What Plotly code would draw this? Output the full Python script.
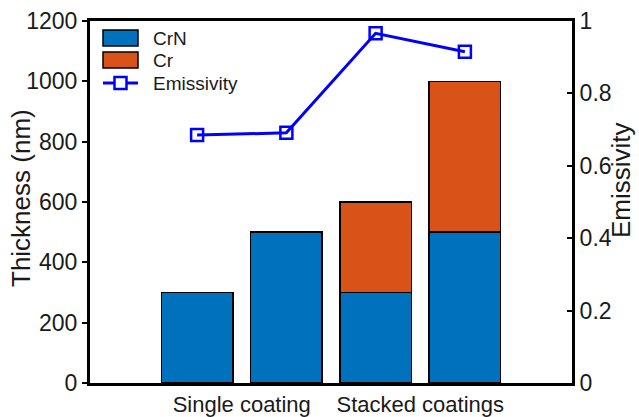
import plotly.graph_objects as go

positions = [1, 2, 3, 4]
crn = [300, 500, 300, 500]
cr = [0, 0, 300, 500]
emissivity = [0.685, 0.691, 0.966, 0.915]
group_pos = [1.5, 3.5]
group_labels = ["Single coating", "Stacked coatings"]
y_ticks = [0, 200, 400, 600, 800, 1000, 1200]
y2_ticks = [0, 0.2, 0.4, 0.6, 0.8, 1]
y2_labels = ["0", "0.2", "0.4", "0.6", "0.8", "1"]

FONT = "Liberation Sans, Arial, sans-serif"
TXT = "#1a1a1a"
C_CRN = "#0072BD"
C_CR = "#D95319"
C_EM = "#0000FF"

W, H = 639, 417
L, R, T, B = 90, 67, 21, 34
PW, PH = W - L - R, H - T - B


def px(x):
    return (x - L) / PW


def py(y):
    return (H - B - y) / PH


fig = go.Figure()
fig.add_trace(go.Bar(x=positions, y=crn, name="CrN", width=0.8,
                     marker=dict(color=C_CRN, line=dict(color="black", width=1.5))))
fig.add_trace(go.Bar(x=positions, y=cr, name="Cr", width=0.8,
                     marker=dict(color=C_CR, line=dict(color="black", width=1.5))))
fig.add_trace(go.Scatter(x=positions, y=emissivity, name="Emissivity", yaxis="y2",
                         mode="lines+markers",
                         line=dict(color=C_EM, width=3),
                         marker=dict(symbol="square-open", size=12, color=C_EM,
                                     line=dict(width=2.5, color=C_EM))))

# manual legend (MATLAB-style wide patches)
shapes = []
annotations = []
legend_items = [("CrN", C_CRN, 38), ("Cr", C_CR, 60)]
for name, col, yc in legend_items:
    shapes.append(dict(type="rect", xref="paper", yref="paper",
                       x0=px(103), x1=px(138), y0=py(yc + 8), y1=py(yc - 8),
                       fillcolor=col, line=dict(color="black", width=1.5)))
    annotations.append(dict(text=name, xref="paper", yref="paper", x=px(151), y=py(yc),
                            xanchor="left", yanchor="middle", showarrow=False,
                            font=dict(size=19, color=TXT, family=FONT)))
yc = 83
shapes.append(dict(type="line", xref="paper", yref="paper",
                   x0=px(103), x1=px(138), y0=py(yc), y1=py(yc),
                   line=dict(color=C_EM, width=3)))
shapes.append(dict(type="rect", xref="paper", yref="paper",
                   x0=px(114.5), x1=px(126.5), y0=py(yc + 6), y1=py(yc - 6),
                   fillcolor="white", line=dict(color=C_EM, width=2.5)))
annotations.append(dict(text="Emissivity", xref="paper", yref="paper", x=px(151), y=py(yc),
                        xanchor="left", yanchor="middle", showarrow=False,
                        font=dict(size=19, color=TXT, family=FONT)))

# axis titles
annotations.append(dict(text="Thickness (nm)", xref="paper", yref="paper",
                        x=px(21), y=py(198), textangle=-90,
                        xanchor="center", yanchor="middle", showarrow=False,
                        font=dict(size=26, color=TXT, family=FONT)))
annotations.append(dict(text="Emissivity", xref="paper", yref="paper",
                        x=px(621), y=py(180), textangle=-90,
                        xanchor="center", yanchor="middle", showarrow=False,
                        font=dict(size=26, color=TXT, family=FONT)))

fig.update_layout(
    width=W, height=H,
    margin=dict(l=L, r=R, t=T, b=B, autoexpand=False),
    paper_bgcolor="white", plot_bgcolor="white",
    barmode="stack",
    font=dict(family=FONT, color=TXT, size=23),
    showlegend=False,
    shapes=shapes,
    annotations=annotations,
    xaxis=dict(range=[-0.2, 5.2], tickvals=group_pos, ticktext=group_labels,
               showline=True, linecolor="black", linewidth=3, mirror=True,
               ticks="", showgrid=False, zeroline=False, automargin=False,
               tickfont=dict(size=22, color=TXT)),
    yaxis=dict(range=[0, 1200], tickvals=y_ticks,
               showline=True, linecolor="black", linewidth=3,
               ticks="outside", ticklen=5, tickwidth=2, tickcolor="black",
               showgrid=False, zeroline=False, automargin=False,
               tickfont=dict(size=23, color=TXT)),
    yaxis2=dict(range=[0, 1], tickvals=y2_ticks, ticktext=y2_labels,
                overlaying="y", side="right",
                showline=True, linecolor="black", linewidth=3,
                ticks="inside", ticklen=5, tickwidth=2, tickcolor="black",
                showgrid=False, zeroline=False, automargin=False,
                tickfont=dict(size=23, color=TXT)),
)

fig.write_html("out.html", config={"displayModeBar": False})

# remove the default page margin so the figure sits at the window's top-left corner
with open("out.html", "r", encoding="utf-8") as f:
    html = f.read()
html = html.replace("<head>", "<head><style>html,body{margin:0;padding:0;overflow:hidden;}</style>", 1)
with open("out.html", "w", encoding="utf-8") as f:
    f.write(html)
